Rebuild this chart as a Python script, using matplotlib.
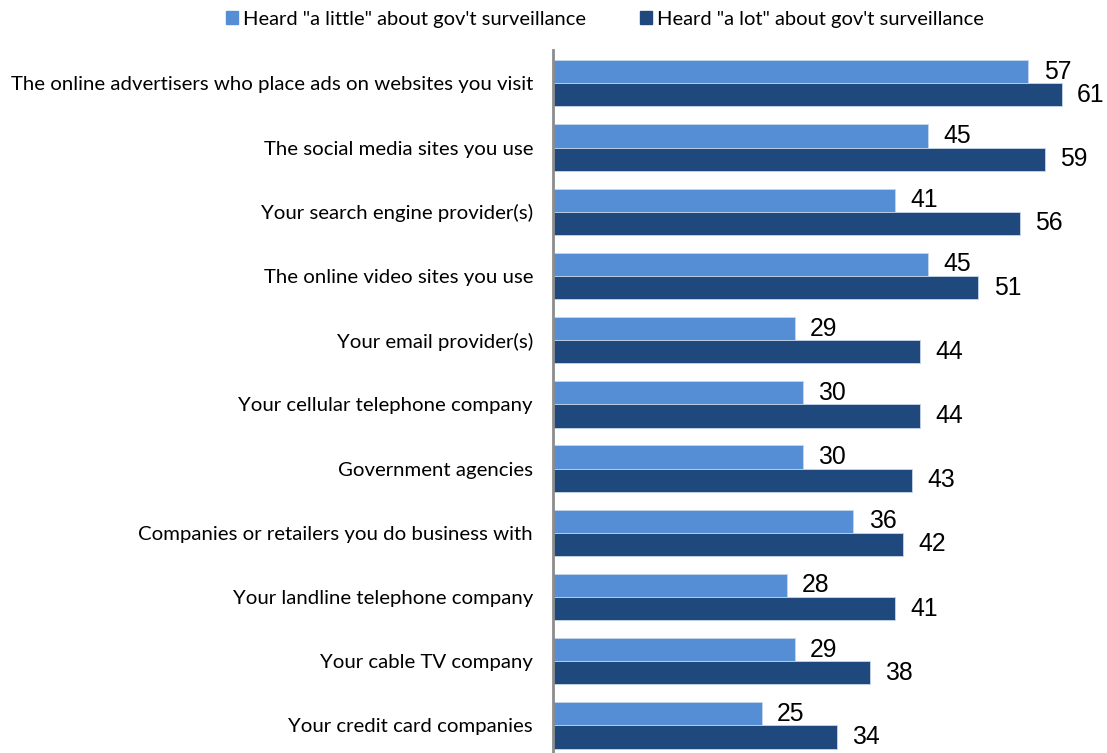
import numpy as np
import matplotlib.pyplot as plt
from matplotlib.patches import Patch

# Share of each group who say they are "not too" / "not at all" confident
categories = [
    'The online advertisers who place ads on websites you visit',
    'The social media sites you use',
    'Your search engine provider(s)',
    'The online video sites you use',
    'Your email provider(s)',
    'Your cellular telephone company',
    'Government agencies',
    'Companies or retailers you do business with',
    'Your landline telephone company',
    'Your cable TV company',
    'Your credit card companies',
]
heard_little = [57, 45, 41, 45, 29, 30, 30, 36, 28, 29, 25]
heard_lot = [61, 59, 56, 51, 44, 44, 43, 42, 41, 38, 34]
series_names = ['Heard "a little" about gov\'t surveillance',
                'Heard "a lot" about gov\'t surveillance']

light = '#558ed5'
dark = '#1f497d'
label_font = ['Lato', 'DejaVu Sans']

fig = plt.figure(figsize=(11.07, 7.53), dpi=100)
ax = fig.add_axes([553 / 1107, 0, 547 / 1107, 703 / 753])

y = np.arange(len(categories))
h = 0.36
ax.barh(y - h / 2, heard_little, height=h, color=light, edgecolor='#c6d6ec', linewidth=0.6)
ax.barh(y + h / 2, heard_lot, height=h, color=dark, edgecolor='#c6d6ec', linewidth=0.6)

for yi, v in zip(y, heard_little):
    ax.annotate(str(v), (v, yi - h / 2), xytext=(11, 0), textcoords='offset points',
                va='center', ha='left', fontsize=17.8, family='Liberation Sans')
for yi, v in zip(y, heard_lot):
    ax.annotate(str(v), (v, yi + h / 2), xytext=(11, 0), textcoords='offset points',
                va='center', ha='left', fontsize=17.8, family='Liberation Sans')

ax.set_xlim(0, 547 / 8.34)
ax.set_ylim(10.43, -0.52)
ax.set_yticks(y)
ax.set_yticklabels(categories, fontsize=14.7, family=label_font)
ax.tick_params(axis='y', length=0, pad=14.4)
ax.set_xticks([])
for side in ['top', 'right', 'bottom']:
    ax.spines[side].set_visible(False)
ax.spines['left'].set_color('#8c8c8c')
ax.spines['left'].set_linewidth(2)

handles = [Patch(color=light), Patch(color=dark)]
fig.legend(handles, series_names, loc='center', bbox_to_anchor=(605 / 1107, 1 - 19 / 753),
           ncol=2, frameon=False, handlelength=0.6, handleheight=0.6, handletextpad=0.25,
           columnspacing=2.7, prop={'family': label_font, 'size': 14.5})

fig.savefig('out.png', dpi=100)
